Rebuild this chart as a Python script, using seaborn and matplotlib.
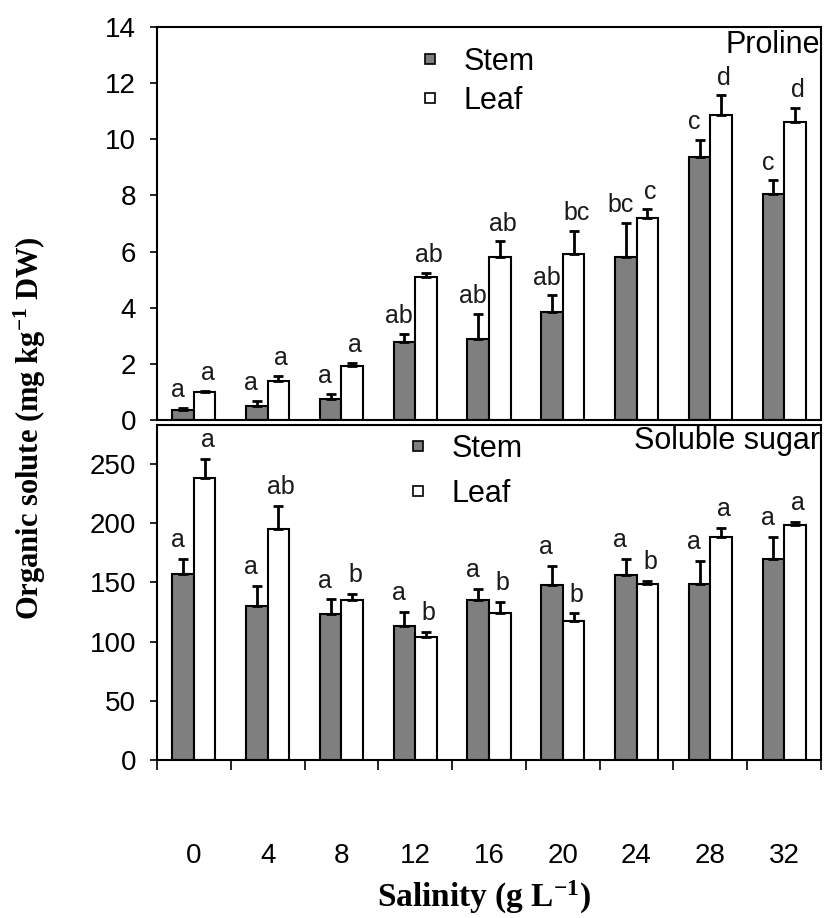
import matplotlib
matplotlib.use("Agg")
import matplotlib.pyplot as plt
import seaborn as sns
import pandas as pd
import numpy as np
from matplotlib.lines import Line2D

salinity = ["0", "4", "8", "12", "16", "20", "24", "28", "32"]
tissues = ["Stem", "Leaf"]

proline_stem = [0.36, 0.50, 0.75, 2.77, 2.89, 3.84, 5.80, 9.37, 8.04]
proline_stem_err = [0.07, 0.19, 0.18, 0.30, 0.89, 0.60, 1.22, 0.62, 0.50]
proline_leaf = [0.99, 1.40, 1.94, 5.11, 5.80, 5.92, 7.21, 10.88, 10.62]
proline_leaf_err = [0.06, 0.18, 0.09, 0.13, 0.57, 0.83, 0.29, 0.69, 0.51]
proline_stem_letters = ["a", "a", "a", "ab", "ab", "ab", "bc", "c", "c"]
proline_leaf_letters = ["a", "a", "a", "ab", "ab", "bc", "c", "d", "d"]

sugar_stem = [157.2, 130.0, 123.3, 113.6, 135.4, 147.7, 155.9, 149.0, 169.7]
sugar_stem_err = [12.3, 17.4, 12.3, 11.8, 9.0, 15.9, 13.6, 19.2, 18.8]
sugar_leaf = [238.0, 195.4, 135.4, 103.8, 124.6, 117.7, 149.0, 188.7, 198.2]
sugar_leaf_err = [16.6, 19.5, 5.1, 4.7, 9.0, 6.1, 2.5, 7.5, 2.6]
sugar_stem_letters = ["a"] * 9
sugar_leaf_letters = ["a", "ab", "b", "b", "b", "b", "b", "a", "a"]

sns.set_style("ticks")
plt.rcParams["font.family"] = ["Liberation Sans", "DejaVu Sans"]
plt.rcParams["mathtext.fontset"] = "custom"
plt.rcParams["mathtext.rm"] = "Liberation Serif:bold"
plt.rcParams["mathtext.bf"] = "Liberation Serif:bold"
plt.rcParams["mathtext.it"] = "Liberation Serif:bold"
plt.rcParams["text.color"] = "black"
plt.rcParams["xtick.color"] = "black"
plt.rcParams["ytick.color"] = "black"
plt.rcParams["xtick.labelcolor"] = "black"
plt.rcParams["ytick.labelcolor"] = "black"

palette = {"Stem": "#7f7f7f", "Leaf": "#ffffff"}

W, H = 825, 918
fig = plt.figure(figsize=(W / 100, H / 100), dpi=100)
left, right = 157, 821
ax1 = fig.add_axes([left / W, (H - 420) / H, (right - left) / W, 393 / H])
ax2 = fig.add_axes([left / W, (H - 760) / H, (right - left) / W, 335 / H])


def make_df(stem, leaf):
    return pd.DataFrame({
        "Salinity": salinity * 2,
        "Tissue": ["Stem"] * len(salinity) + ["Leaf"] * len(salinity),
        "Value": list(stem) + list(leaf),
    })


def draw(ax, stem, stem_err, leaf, leaf_err, stem_let, leaf_let, ylim, yticks, title, legend_anchor, lab_off):
    df = make_df(stem, leaf)
    sns.barplot(data=df, x="Salinity", y="Value", hue="Tissue", order=salinity,
                hue_order=tissues, palette=palette, width=0.585, errorbar=None,
                edgecolor="black", linewidth=1.5, legend=False, ax=ax, zorder=2)
    for cont, errs, lets, dx in zip(ax.containers, [stem_err, leaf_err], [stem_let, leaf_let], [-4, 2]):
        xs = [b.get_x() + b.get_width() / 2 for b in cont]
        hs = [b.get_height() for b in cont]
        ax.errorbar(xs, hs, yerr=[np.zeros(len(errs)), errs], fmt="none",
                    ecolor="black", elinewidth=2, capsize=3.5, capthick=2, zorder=3)
        for x, h, e, t in zip(xs, hs, errs, lets):
            ax.annotate(t, (x, h + e), xytext=(dx, lab_off), textcoords="offset points",
                        ha="center", va="bottom", fontsize=18, color="#1a1a1a")
    ax.set_ylim(*ylim)
    ax.set_xlim(-0.5, len(salinity) - 0.5)
    ax.set_yticks(yticks)
    ax.set_yticklabels([str(v) for v in yticks], fontsize=20)
    ax.tick_params(axis="y", direction="out", length=5, width=1.2, pad=10)
    ax.set_xlabel("")
    ax.set_ylabel("")
    for s in ax.spines.values():
        s.set_visible(True)
        s.set_linewidth(1.5)
        s.set_color("black")
    ax.text(0.998, legend_anchor[2], title, transform=ax.transAxes, ha="right", va="center",
            fontsize=22, color="black")
    handles = [Line2D([], [], marker="s", linestyle="none", markersize=7,
                      markerfacecolor=palette[t], markeredgecolor="black", markeredgewidth=1.2)
               for t in tissues]
    ax.legend(handles, tissues, loc="upper left", bbox_to_anchor=legend_anchor[:2],
              frameon=False, fontsize=22, handletextpad=0.6, labelspacing=legend_anchor[3],
              borderaxespad=0, handlelength=1.0)


draw(ax1, proline_stem, proline_stem_err, proline_leaf, proline_leaf_err,
     proline_stem_letters, proline_leaf_letters, (0, 14), list(range(0, 15, 2)), "Proline",
     (0.37, 0.98, 0.953, 0.28), 4)
draw(ax2, sugar_stem, sugar_stem_err, sugar_leaf, sugar_leaf_err,
     sugar_stem_letters, sugar_leaf_letters, (0, 283), list(range(0, 251, 50)), "Soluble sugar",
     (0.352, 1.01, 0.952, 0.48), 5)

ax1.set_xticks([])
ax1.tick_params(axis="x", length=0)

n = len(salinity)
ax2.set_xticks(np.arange(-0.5, n, 1.0))
ax2.set_xticklabels([])
ax2.tick_params(axis="x", which="major", direction="out", length=7, width=1.2)
ax2.set_xticks(np.arange(n), minor=True)
ax2.set_xticklabels(salinity, minor=True, fontsize=20)
ax2.tick_params(axis="x", which="minor", length=0, pad=60)

fig.text(30 / W, (H - 428) / H, r"Organic solute (mg kg$^{-1}$ DW)", rotation=90,
         ha="center", va="center", fontsize=22, fontweight="bold", family="Liberation Serif")
fig.text(484 / W, (H - 897) / H, r"Salinity (g L$^{-1}$)", ha="center", va="center",
         fontsize=24, fontweight="bold", family="Liberation Serif")

fig.savefig("out.png", dpi=100)
